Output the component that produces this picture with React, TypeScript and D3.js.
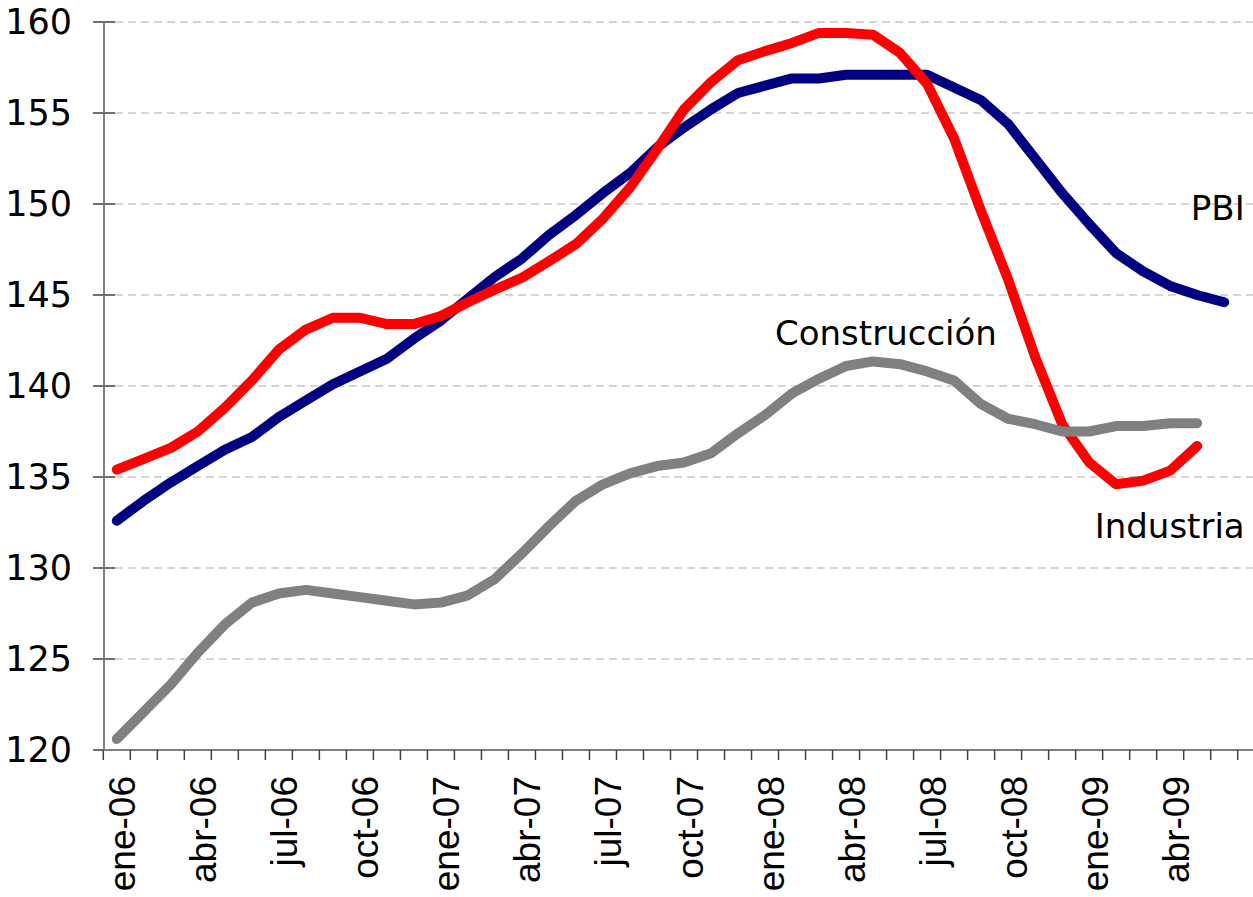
import React, { useEffect, useRef } from 'react';
import * as d3 from 'd3';

// months, ene-06 .. jun-09
const months = [
  'ene-06', 'feb-06', 'mar-06', 'abr-06', 'may-06', 'jun-06', 'jul-06', 'ago-06', 'sep-06', 'oct-06', 'nov-06', 'dic-06',
  'ene-07', 'feb-07', 'mar-07', 'abr-07', 'may-07', 'jun-07', 'jul-07', 'ago-07', 'sep-07', 'oct-07', 'nov-07', 'dic-07',
  'ene-08', 'feb-08', 'mar-08', 'abr-08', 'may-08', 'jun-08', 'jul-08', 'ago-08', 'sep-08', 'oct-08', 'nov-08', 'dic-08',
  'ene-09', 'feb-09', 'mar-09', 'abr-09', 'may-09', 'jun-09',
];

const tickMonths = [
  'ene-06', 'abr-06', 'jul-06', 'oct-06', 'ene-07', 'abr-07', 'jul-07',
  'oct-07', 'ene-08', 'abr-08', 'jul-08', 'oct-08', 'ene-09', 'abr-09',
];

const yTicks = [120, 125, 130, 135, 140, 145, 150, 155, 160];

const pbi = [
  132.6, 133.7, 134.7, 135.6, 136.5, 137.2, 138.3, 139.2, 140.1, 140.8, 141.5, 142.6,
  143.6, 144.8, 146.0, 147.0, 148.3, 149.4, 150.6, 151.7, 153.1, 154.2, 155.2, 156.1,
  156.5, 156.9, 156.9, 157.1, 157.1, 157.1, 157.1, 156.4, 155.7, 154.4, 152.5, 150.6,
  148.9, 147.3, 146.3, 145.5, 145.0, 144.6,
];

const industria = [
  135.4, 136.0, 136.6, 137.5, 138.8, 140.3, 142.0, 143.1, 143.75, 143.75, 143.4, 143.4,
  143.85, 144.6, 145.3, 145.95, 146.85, 147.8, 149.2, 150.9, 153.0, 155.2, 156.7, 157.9,
  158.4, 158.85, 159.4, 159.4, 159.3, 158.3, 156.6, 153.6, 149.6, 145.85, 141.6, 137.9,
  135.8, 134.6, 134.8, 135.35, 136.7,
];

const construccion = [
  120.6, 122.1, 123.6, 125.35, 126.9, 128.1, 128.6, 128.8, 128.6, 128.4, 128.2, 128.0,
  128.1, 128.5, 129.4, 130.8, 132.3, 133.7, 134.6, 135.2, 135.6, 135.8, 136.3, 137.4,
  138.4, 139.6, 140.4, 141.1, 141.35, 141.2, 140.8, 140.3, 139.0, 138.2, 137.9, 137.5,
  137.5, 137.8, 137.8, 137.95, 137.95,
];

const W = 1253;
const H = 897;

const App = () => {
  const svgRef = useRef<SVGSVGElement>(null);

  useEffect(() => {
    const svg = d3.select(svgRef.current);
    svg.selectAll('*').remove();

    const x = d3.scaleBand<string>().domain(months).range([103.3, 1237.7]).paddingInner(0).paddingOuter(0);
    const y = d3.scaleLinear().domain([120, 160]).range([750, 22]);
    const cx = (i: number) => (x(months[i]) as number) + x.bandwidth() / 2;

    // gridlines
    svg.append('g')
      .selectAll('line')
      .data(yTicks.filter(t => t !== 120))
      .enter()
      .append('line')
      .attr('x1', 115)
      .attr('x2', W)
      .attr('y1', d => y(d))
      .attr('y2', d => y(d))
      .style('stroke', '#c8c8c8')
      .style('stroke-width', 1.5)
      .style('stroke-dasharray', '8,5');

    // y axis
    const yAxis = svg.append('g');
    yAxis.append('line')
      .attr('x1', 104).attr('x2', 104)
      .attr('y1', y(160)).attr('y2', y(120))
      .style('stroke', '#808080').style('stroke-width', 2);
    yAxis.selectAll('line.tick')
      .data(yTicks)
      .enter()
      .append('line')
      .attr('class', 'tick')
      .attr('x1', 93).attr('x2', 115)
      .attr('y1', d => y(d)).attr('y2', d => y(d))
      .style('stroke', '#707070').style('stroke-width', 2);
    yAxis.selectAll('text')
      .data(yTicks)
      .enter()
      .append('text')
      .attr('x', 72)
      .attr('y', d => y(d))
      .attr('text-anchor', 'end')
      .attr('dominant-baseline', 'central')
      .style('font-family', '"DejaVu Sans", sans-serif')
      .style('font-size', '35px')
      .style('fill', '#000')
      .text(d => d);

    // x axis
    const xAxis = svg.append('g');
    xAxis.append('line')
      .attr('x1', 103).attr('x2', W)
      .attr('y1', y(120)).attr('y2', y(120))
      .style('stroke', '#808080').style('stroke-width', 2);
    const edges = months.map(m => x(m) as number).concat([x.range()[1]]);
    xAxis.selectAll('line.tick')
      .data(edges)
      .enter()
      .append('line')
      .attr('class', 'tick')
      .attr('x1', d => d).attr('x2', d => d)
      .attr('y1', y(120)).attr('y2', y(120) + 10)
      .style('stroke', '#404040').style('stroke-width', 1.5);
    xAxis.selectAll('text')
      .data(tickMonths)
      .enter()
      .append('text')
      .attr('transform', d => `translate(${(x(d) as number) + x.bandwidth() / 2 + 6},${y(120) + 26}) rotate(-90)`)
      .attr('text-anchor', 'end')
      .attr('dominant-baseline', 'central')
      .style('font-family', '"Liberation Sans", Arial, sans-serif')
      .style('font-size', '37px')
      .style('fill', '#000')
      .text(d => d);

    // series
    const line = d3.line<number>()
      .x((_, i) => cx(i))
      .y(d => y(d))
      .curve(d3.curveLinear);

    const series = [
      { values: pbi, color: '#000080' },
      { values: industria, color: '#ff0000' },
      { values: construccion, color: '#808080' },
    ];
    svg.append('g')
      .selectAll('path')
      .data(series)
      .enter()
      .append('path')
      .attr('d', d => line(d.values))
      .style('fill', 'none')
      .style('stroke', d => d.color)
      .style('stroke-width', 10)
      .style('stroke-linejoin', 'round')
      .style('stroke-linecap', 'round');

    // series labels
    const labels = [
      { text: 'PBI', x: x.range()[1] + 7, v: 149.1, anchor: 'end' },
      { text: 'Construcción', x: cx(24) + 10, v: 142.25, anchor: 'start' },
      { text: 'Industria', x: x.range()[1] + 7, v: 131.65, anchor: 'end' },
    ];
    svg.append('g')
      .selectAll('text')
      .data(labels)
      .enter()
      .append('text')
      .attr('x', d => d.x)
      .attr('y', d => y(d.v))
      .attr('text-anchor', d => d.anchor)
      .style('font-family', '"DejaVu Sans", sans-serif')
      .style('font-size', '34px')
      .style('fill', '#000')
      .text(d => d.text);
  }, []);

  return (
    <svg
      ref={svgRef}
      width={W}
      height={H}
      style={{ position: 'absolute', left: 0, top: 0, background: '#fff', display: 'block' }}
    />
  );
};

export default App;
